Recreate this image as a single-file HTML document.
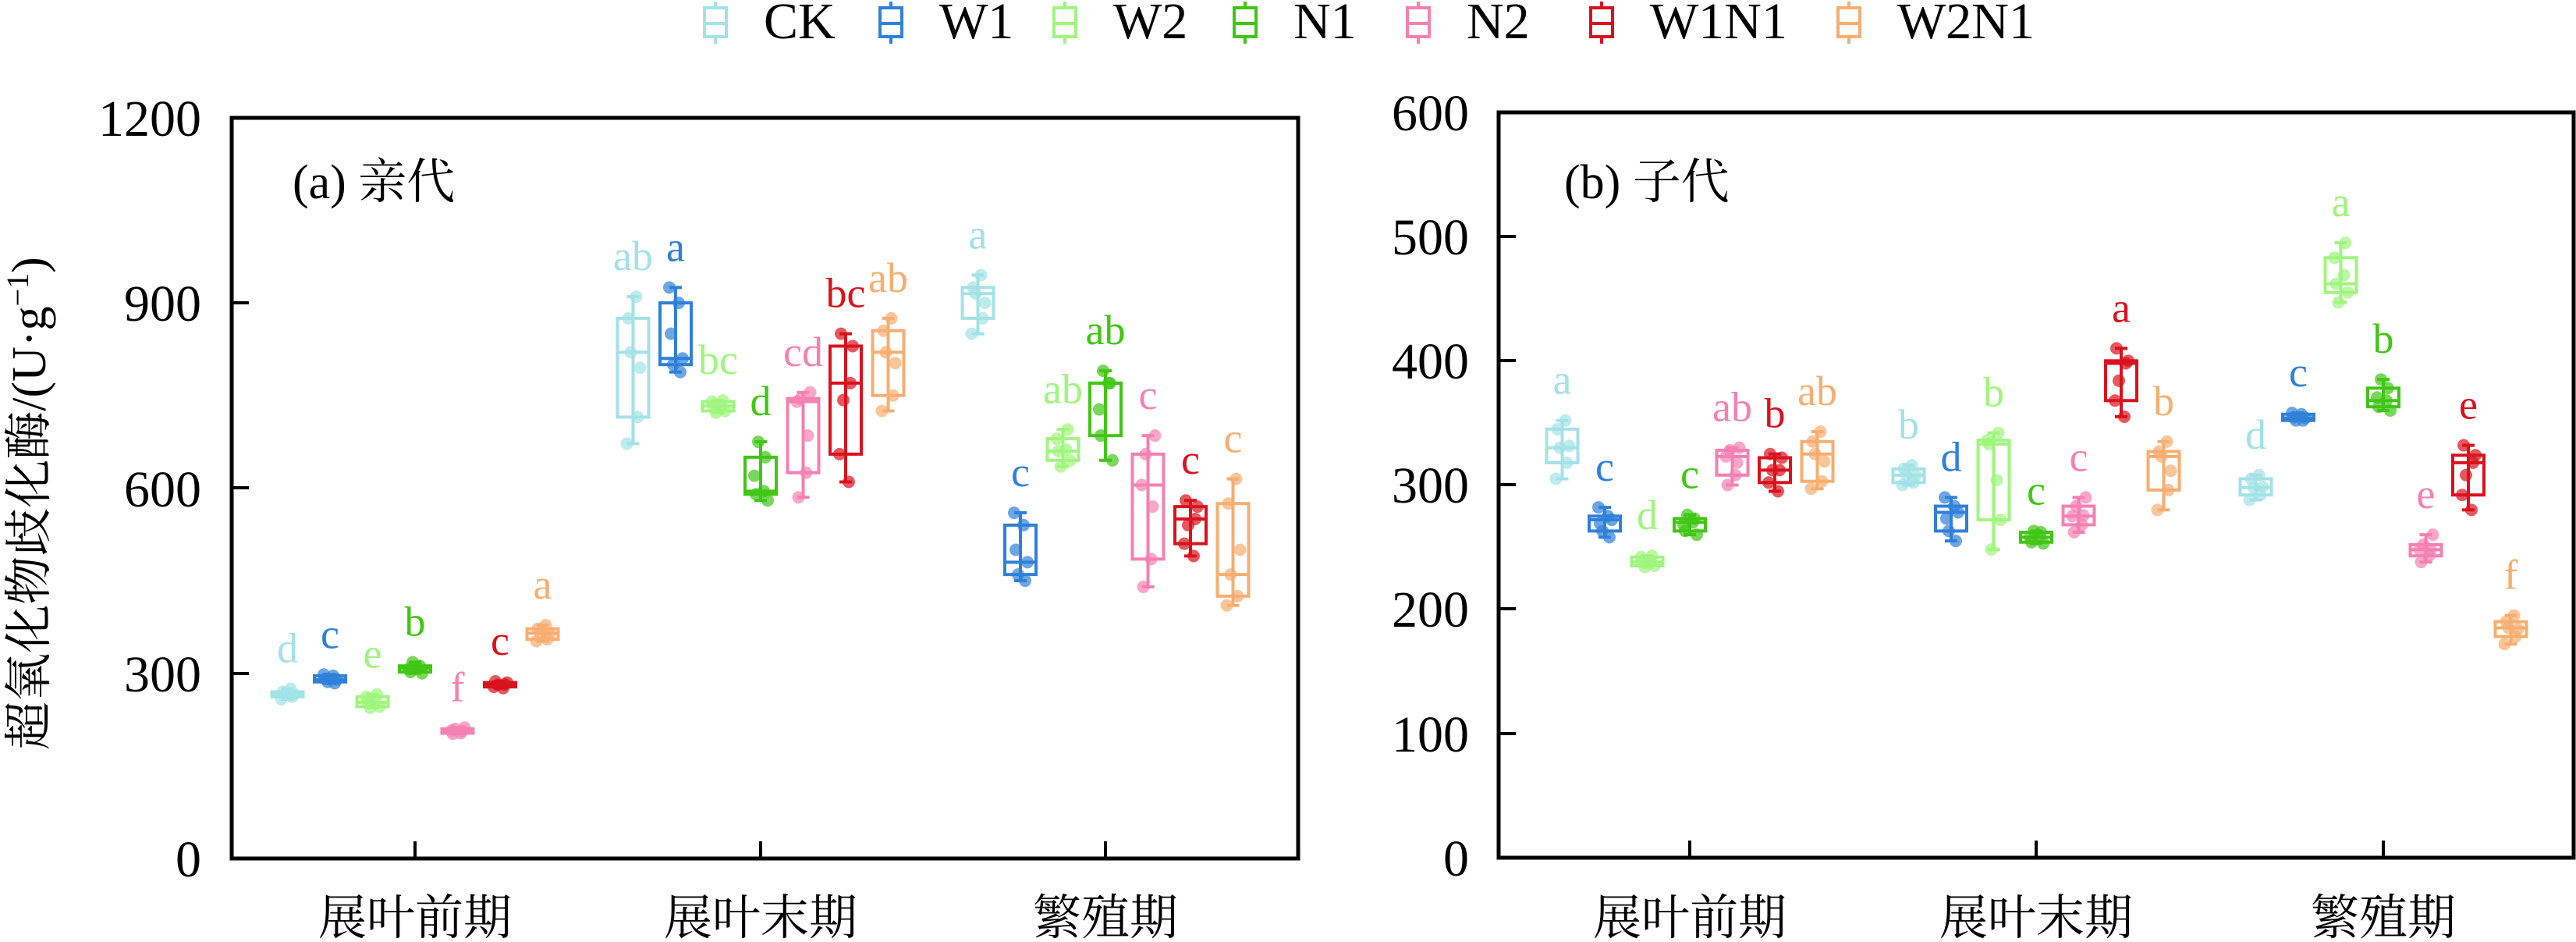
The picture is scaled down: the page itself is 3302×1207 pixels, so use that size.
<!DOCTYPE html>
<html><head><meta charset="utf-8"><style>
html,body{margin:0;padding:0;background:#fff;}
svg{display:block;}
text{font-family:"Liberation Serif","Noto Serif CJK SC","Noto Sans CJK SC",serif;}
</style></head><body>
<svg id="s" width="3302" height="1207" viewBox="0 0 3302 1207" xmlns="http://www.w3.org/2000/svg">
<rect width="3302" height="1207" fill="#fff"/>
<!-- legend -->
<g id="leg"></g>
<!-- frames -->
<rect x="297" y="151" width="1367" height="949" fill="none" stroke="#000" stroke-width="5"/>
<rect x="1921" y="144" width="1378" height="955" fill="none" stroke="#000" stroke-width="5"/>
<g font-size="66" text-anchor="end" fill="#000">
<text x="258" y="174">1200</text><text x="258" y="411">900</text><text x="258" y="649">600</text><text x="258" y="886">300</text><text x="258" y="1123">0</text>
<text x="1883" y="167">600</text><text x="1883" y="326">500</text><text x="1883" y="485">400</text><text x="1883" y="644">300</text><text x="1883" y="803">200</text><text x="1883" y="963">100</text><text x="1883" y="1122">0</text>
</g>
<g stroke="#000" stroke-width="4">
<line x1="297" y1="388" x2="319" y2="388"/><line x1="297" y1="625" x2="319" y2="625"/><line x1="297" y1="863" x2="319" y2="863"/>
<line x1="532" y1="1100" x2="532" y2="1078"/><line x1="975" y1="1100" x2="975" y2="1078"/><line x1="1417" y1="1100" x2="1417" y2="1078"/>
<line x1="1921" y1="303" x2="1943" y2="303"/><line x1="1921" y1="462" x2="1943" y2="462"/><line x1="1921" y1="621" x2="1943" y2="621"/><line x1="1921" y1="780" x2="1943" y2="780"/><line x1="1921" y1="940" x2="1943" y2="940"/>
<line x1="2166" y1="1099" x2="2166" y2="1077"/><line x1="2610" y1="1099" x2="2610" y2="1077"/><line x1="3055" y1="1099" x2="3055" y2="1077"/>
</g>
<g font-size="62" text-anchor="middle" fill="#000">
<text x="532" y="1197">展叶前期</text><text x="975" y="1197">展叶末期</text><text x="1417" y="1197">繁殖期</text>
<text x="2166" y="1197">展叶前期</text><text x="2610" y="1197">展叶末期</text><text x="3055" y="1197">繁殖期</text>
</g>
<g font-size="62" fill="#000">
<text x="375" y="254">(a) 亲代</text>
<text x="2005" y="254">(b) 子代</text>
</g>
<text transform="translate(58,645) rotate(-90)" font-size="62" text-anchor="middle" fill="#000">超氧化物歧化酶/(U·g<tspan baseline-shift="super" font-size="40">−1</tspan>)</text>
<g id="boxes"></g>
</svg>
<script>
var C=["#a3e2e6","#2f80d8","#a0f57e","#40c615","#f580b2","#d9121d","#f7ae70"];
var N=["CK","W1","W2","N1","N2","W1N1","W2N1"];
var LX=[917,1142,1365,1596,1818,2053,2370];
var ns="http://www.w3.org/2000/svg";
function el(t,a,p){var e=document.createElementNS(ns,t);for(var k in a)e.setAttribute(k,a[k]);(p||document.getElementById("boxes")).appendChild(e);return e;}
var leg=document.getElementById("leg");
for(var i=0;i<7;i++){var x=LX[i];
el("line",{x1:x,y1:2,x2:x,y2:56,stroke:C[i],"stroke-width":4},leg);
el("rect",{x:x-14,y:10,width:28,height:37,fill:"#fff",stroke:C[i],"stroke-width":4},leg);
el("line",{x1:x-14,y1:30,x2:x+14,y2:30,stroke:C[i],"stroke-width":4},leg);
var t=el("text",{x:x+62,y:49,"font-size":66,fill:"#000"},leg);t.textContent=N[i];}
// [wlo,q1,med,q3,whi,letter]
var A=[
[[258,262,265,270,275,"d"],[284,286,290,296,298,"c"],[244,246,253,262,266,"e"],[300,302,308,312,318,"b"],[202,203,207,210,212,"f"],[276,278,282,285,287,"c"],[352,355,365,372,378,"a"]],
[[672,715,820,875,910,"ab"],[788,800,810,900,925,"a"],[722,725,733,740,742,"bc"],[580,590,595,650,675,"d"],[585,625,740,745,755,"cd"],[610,655,770,830,850,"bc"],[725,750,820,855,875,"ab"]],
[[850,875,915,925,945,"a"],[450,460,480,540,560,"c"],[635,645,660,680,695,"ab"],[645,685,770,770,790,"ab"],[440,485,605,655,685,"c"],[490,510,550,570,580,"c"],[410,425,460,575,615,"c"]]];
var B=[
[[305,318,330,345,352,"a"],[258,263,272,275,282,"c"],[234,235,238,242,243,"d"],[260,263,270,273,276,"c"],[300,308,323,328,330,"ab"],[295,302,312,322,325,"b"],[297,303,325,335,343,"ab"]],
[[300,302,308,313,316,"b"],[255,263,278,283,290,"d"],[248,272,333,336,342,"b"],[253,254,258,262,263,"c"],[262,268,275,283,290,"c"],[355,368,398,400,410,"a"],[280,296,323,327,335,"b"]],
[[288,292,298,305,308,"d"],[352,352,354,357,358,"c"],[447,455,462,483,495,"a"],[360,363,368,378,385,"b"],[238,243,248,252,260,"e"],[280,292,318,324,332,"e"],[172,178,185,190,195,"f"]]];
function draw(D,ticks,y0,sc){
for(var g=0;g<3;g++)for(var i=0;i<7;i++){
var d=D[g][i],cx=ticks[g]+(i-3)*54.5,c=C[i];
function Y(v){return y0-v*sc;}
var jit=[-8,6,-3,9,-6,4];
var vals=[d[0],d[1],d[2],(d[1]+d[3])/2,d[3],d[4]];
for(var k=0;k<6;k++)el("circle",{cx:cx+jit[(k+i)%6],cy:Y(vals[k]),r:8,fill:c,opacity:0.7});
el("line",{x1:cx,y1:Y(d[4]),x2:cx,y2:Y(d[0]),stroke:c,"stroke-width":4});
el("line",{x1:cx-8,y1:Y(d[4]),x2:cx+8,y2:Y(d[4]),stroke:c,"stroke-width":4});
el("line",{x1:cx-8,y1:Y(d[0]),x2:cx+8,y2:Y(d[0]),stroke:c,"stroke-width":4});
var h=Math.max(Y(d[1])-Y(d[3]),3);
el("rect",{x:cx-20,y:Y(d[3]),width:40,height:h,fill:"none",stroke:c,"stroke-width":4});
el("line",{x1:cx-20,y1:Y(d[2]),x2:cx+20,y2:Y(d[2]),stroke:c,"stroke-width":4});
var t=el("text",{x:cx,y:Y(d[4])-34,"font-size":54,"text-anchor":"middle",fill:c});t.textContent=d[5];
}}
draw(A,[532,975,1417],1100,0.791);
draw(B,[2166,2610,3055],1099,1.5917);
</script>
</body></html>
